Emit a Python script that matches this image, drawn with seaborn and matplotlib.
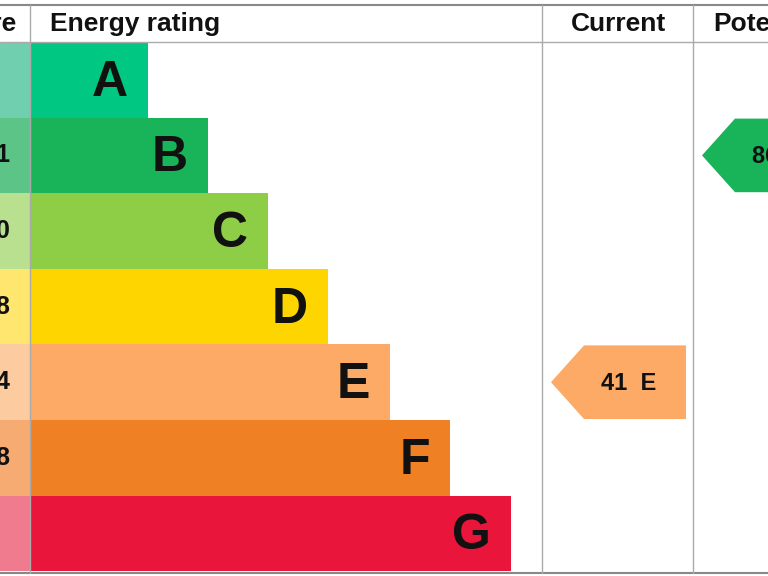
import numpy as np
import matplotlib
matplotlib.use("Agg")
import matplotlib.pyplot as plt
from matplotlib.patches import Polygon
import seaborn as sns

sns.set_theme(style="white")
plt.rcParams['font.family'] = ['Liberation Sans', 'DejaVu Sans']

bands = ['A', 'B', 'C', 'D', 'E', 'F', 'G']
# score column is cropped off in the reference; only last digits are visible
scores = ['', '81-91', '69-80', '55-68', '39-54', '21-38', '']
bar_ends = [148, 208, 268, 328, 390, 450, 511]
colors = ['#00c781', '#19b459', '#8dce46', '#ffd500', '#fcaa65', '#ef8023', '#e9153b']
light = ['#6fcfae', '#5dc488', '#b9e08f', '#ffe66e', '#fdcba0', '#f6ab73', '#f07b8e']
current, current_band = 41, 'E'
potential, potential_band = 86, 'B'

fig = plt.figure(figsize=(7.68, 5.76), dpi=100)
ax = fig.add_axes([0, 0, 1, 1])
ax.set_xlim(0, 768)
ax.set_ylim(576, 0)
ax.axis('off')

top, head, row_h = 5, 42, 75.6
ys = [head + row_h * (i + 0.5) for i in range(len(bands))]

# score column and bars
ax.barh(ys, [30] * 7, left=0, height=row_h, color=light, linewidth=0)
ax.barh(ys, [e - 30 for e in bar_ends], left=30, height=row_h, color=colors, linewidth=0)
for y, b, e, s in zip(ys, bands, bar_ends, scores):
    ax.text(e - 20, y + 3, b, ha='right', va='center', fontsize=36, fontweight='bold', color='#111')
    if s:
        ax.text(10, y, s, ha='right', va='center', fontsize=18, fontweight='bold', color='#111')

# grid lines
lc = '#aaaaaa'
ax.plot([0, 768], [top, top], color='#888', lw=1.5)
ax.plot([0, 768], [head, head], color=lc, lw=1)
ax.plot([0, 768], [573, 573], color='#888', lw=1.5)
for x in [30, 542, 693]:
    ax.plot([x, x], [top, 573], color=lc, lw=1)

# headers
ax.text(16, 24, 'Score', ha='right', va='center', fontsize=19, fontweight='bold', color='#111')
ax.text(50, 24, 'Energy rating', ha='left', va='center', fontsize=19, fontweight='bold', color='#111')
ax.text(618, 24, 'Current', ha='center', va='center', fontsize=19, fontweight='bold', color='#111')
ax.text(713, 24, 'Potential', ha='left', va='center', fontsize=19, fontweight='bold', color='#111')

def arrow(x0, x1, band, value):
    i = bands.index(band)
    y0, y1 = head + row_h * i + 1, head + row_h * (i + 1) - 1
    ym = (y0 + y1) / 2
    pts = [(x0, ym), (x0 + 33, y0), (x1, y0), (x1, y1), (x0 + 33, y1)]
    ax.add_patch(Polygon(pts, closed=True, color=colors[i], lw=0))
    ax.text(x0 + 50, ym + 1, f'{value}  {band}', ha='left', va='center',
            fontsize=17, fontweight='bold', color='#111')

arrow(551, 686, current_band, current)
arrow(702, 840, potential_band, potential)

fig.savefig('out.png', dpi=100)
